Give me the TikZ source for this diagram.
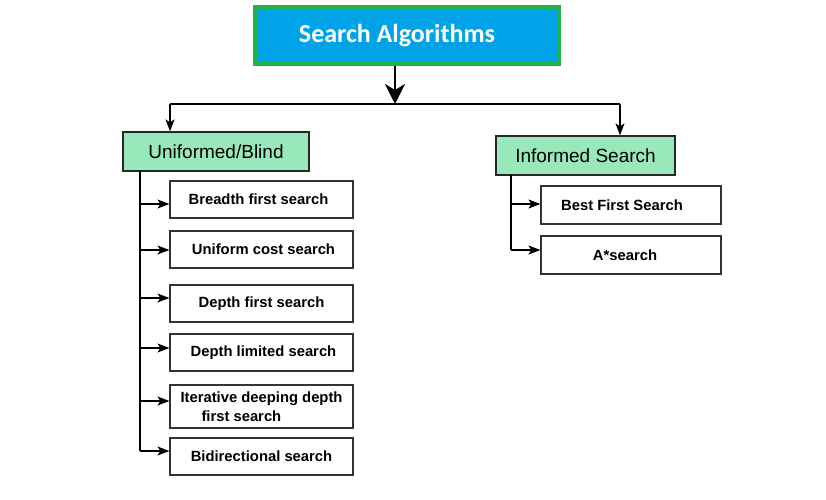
\documentclass[tikz,border=0pt]{standalone}
\usepackage{fontspec}
\setmainfont{Liberation Sans}
\newfontfamily\carlito{Carlito}
\usetikzlibrary{arrows.meta}
\definecolor{topblue}{RGB}{0,163,232}
\definecolor{topgreen}{RGB}{34,177,76}
\definecolor{catgreen}{RGB}{153,232,185}
\begin{document}
\begin{tikzpicture}[x=1pt,y=-1pt,
  topbox/.style={draw=topgreen, line width=4pt, fill=topblue, text=white, inner sep=0pt,
     minimum width=304pt, minimum height=57pt, font=\carlito\bfseries\fontsize{26}{30}\selectfont},
  catbox/.style={draw=black!85, line width=1.3pt, fill=catgreen, inner sep=0pt,
     font=\fontsize{19}{23}\selectfont},
  leafbox/.style={draw=black!80, line width=1.2pt, fill=white, inner sep=0pt,
     minimum width=183pt, font=\bfseries\fontsize{14.8}{19}\selectfont},
  rleaf/.style={leafbox, minimum width=180pt},
  bigarr/.style={line width=2.6pt, -{Stealth[length=20pt,width=20pt,inset=6pt]}},
  smarr/.style={line width=1.2pt, -{Stealth[length=12pt,width=9pt,inset=3pt]}},
  trunk/.style={line width=2.6pt},
  hline/.style={line width=2pt}]
\useasboundingbox (0,0) rectangle (826,499);
% top
\node[topbox] (sa) at (407,35.5) {Search Algorithms\hspace*{20pt}};
% categories
\node[catbox, minimum width=186pt, minimum height=39pt] (ub) at (216,151.5) {Uniformed/Blind};
\node[catbox, minimum width=179pt, minimum height=39pt] (is) at (585.5,155.5) {Informed Search};
% left leaves
\node[leafbox, minimum height=37pt] (bfs) at (261.5,199.5) {Breadth first search\hspace*{6pt}};
\node[leafbox, minimum height=37pt] (ucs) at (261.5,249.5) {\hspace*{4pt}Uniform cost search};
\node[leafbox, minimum height=37pt] (dfs) at (261.5,303.5) {\raisebox{-2pt}{Depth first search}};
\node[leafbox, minimum height=37pt] (dls) at (261.5,352.5) {\hspace*{4pt}Depth limited search};
\node[leafbox, minimum height=43pt, align=left] (ids) at (261.5,406.5) {Iterative deeping depth\\\hspace*{21pt}first search};
\node[leafbox, minimum height=37pt] (bds) at (261.5,456.5) {Bidirectional search};
% right leaves
\node[rleaf, minimum height=38pt] (best) at (631,205) {Best First Search\hspace*{18pt}};
\node[rleaf, minimum height=38pt] (astar) at (631,255) {A*search\hspace*{12pt}};
% top connectors
\coordinate (hub) at (395,104);
\coordinate (hl) at (170,104);
\coordinate (hr) at (620,104);
\draw[bigarr] (sa.south -| hub) -- (hub);
\draw[hline] (hl) -- (hr);
\draw[smarr] (hl) -- (hl |- ub.north);
\draw[smarr] (hr) -- (hr |- is.north);
% left trunk
\coordinate (lt) at (140,171);
\coordinate (l1) at (140,204);
\coordinate (l2) at (140,250);
\coordinate (l3) at (140,298);
\coordinate (l4) at (140,348);
\coordinate (l5) at (140,401);
\coordinate (l6) at (140,451);
\draw[trunk] (lt) -- (l6);
\draw[smarr] (l1) -- (l1 -| bfs.west);
\draw[smarr] (l2) -- (l2 -| ucs.west);
\draw[smarr] (l3) -- (l3 -| dfs.west);
\draw[smarr] (l4) -- (l4 -| dls.west);
\draw[smarr] (l5) -- (l5 -| ids.west);
\draw[smarr] (l6) -- (l6 -| bds.west);
% right trunk
\coordinate (rt) at (511,175);
\coordinate (r1) at (511,204);
\coordinate (r2) at (511,250);
\draw[trunk] (rt) -- (r2);
\draw[smarr] (r1) -- (r1 -| best.west);
\draw[smarr] (r2) -- (r2 -| astar.west);
\end{tikzpicture}
\end{document}
